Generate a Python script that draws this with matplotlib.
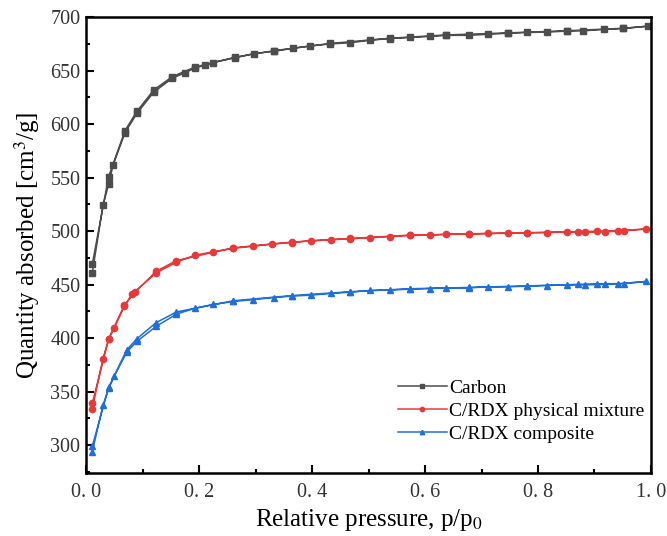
import numpy as np
import matplotlib
matplotlib.use("Agg")
import matplotlib.pyplot as plt
from matplotlib.ticker import MultipleLocator, FuncFormatter

plt.rcParams['font.family'] = ['Liberation Serif', 'DejaVu Serif']
plt.rcParams['mathtext.fontset'] = 'stix'

# Carbon (adsorption then desorption branch)
carbon_ads_x = [0.011, 0.030, 0.040, 0.048, 0.069, 0.090, 0.120, 0.153, 0.175, 0.193,
                0.211, 0.225, 0.264, 0.297, 0.332, 0.367, 0.396, 0.432, 0.467, 0.503,
                0.538, 0.573, 0.609, 0.638, 0.677, 0.712, 0.747, 0.781, 0.816, 0.851,
                0.880, 0.916, 0.951, 0.995]
carbon_ads_y = [461, 524, 544, 562, 592, 610, 630, 643, 648, 652.6,
                655, 657.6, 662, 666, 668, 671, 673, 675, 676, 678.5,
                680, 681, 682, 683, 683, 684, 685, 685.7, 686, 687,
                687.2, 688.5, 689.4, 691.6]
carbon_des_x = [0.951, 0.851, 0.747, 0.638, 0.538, 0.432, 0.332, 0.264, 0.193, 0.153,
                0.120, 0.090, 0.069, 0.040, 0.011]
carbon_des_y = [689.6, 687.3, 685.3, 683.4, 680.3, 675.4, 668.6, 662.6, 653.4, 644.5,
                632, 612, 594, 551, 469]

# C/RDX physical mixture
mix_ads_x = [0.011, 0.030, 0.040, 0.050, 0.068, 0.081, 0.124, 0.160, 0.193, 0.225,
             0.261, 0.296, 0.330, 0.364, 0.398, 0.433, 0.467, 0.503, 0.538, 0.573,
             0.609, 0.638, 0.677, 0.712, 0.747, 0.781, 0.816, 0.851, 0.883, 0.919,
             0.952, 0.991]
mix_ads_y = [334, 381, 398.8, 409.6, 430, 441, 461, 471, 477.6, 480.7,
             484, 486, 488, 489.4, 491, 492, 492.8, 494, 495, 496,
             496.3, 497, 497.2, 497.9, 498, 498.4, 498.7, 499, 498.8, 499.4,
             500.3, 502]
mix_des_x = [0.942, 0.904, 0.870, 0.781, 0.677, 0.573, 0.467, 0.364, 0.261, 0.160,
             0.124, 0.087, 0.068, 0.040, 0.011]
mix_des_y = [500.6, 500, 499.6, 498.6, 497.5, 496.3, 493.2, 489.8, 484.5, 472.5,
             462.5, 443, 431, 399.5, 339]

# C/RDX composite
comp_ads_x = [0.011, 0.030, 0.040, 0.050, 0.072, 0.090, 0.124, 0.160, 0.193, 0.225,
              0.261, 0.296, 0.332, 0.364, 0.398, 0.433, 0.467, 0.503, 0.538, 0.573,
              0.609, 0.638, 0.677, 0.712, 0.747, 0.781, 0.816, 0.851, 0.883, 0.919,
              0.952, 0.991]
comp_ads_y = [293.8, 337.4, 353, 364.5, 387, 397, 411, 422.5, 428, 431.5,
              434.3, 436, 438, 439.3, 440.2, 441.8, 443, 444.6, 445, 445.8,
              446.4, 447, 447, 448, 448, 448.6, 449.2, 449.8, 449.8, 450.3,
              450.9, 453]
comp_des_x = [0.942, 0.904, 0.870, 0.781, 0.677, 0.573, 0.467, 0.364, 0.261, 0.160,
              0.124, 0.090, 0.072, 0.040, 0.011]
comp_des_y = [451, 450.9, 450.3, 448.9, 447.4, 446.2, 443.4, 439.8, 435, 424.5,
              414.5, 399.5, 389, 354, 299]

labels = ["Carbon", "C/RDX physical mixture", "C/RDX composite"]

fig = plt.figure(figsize=(6.67, 5.36), dpi=100)
ax = fig.add_axes([0.129, 0.1175, 0.847, 0.8505])

series = [
    (carbon_ads_x + carbon_des_x, carbon_ads_y + carbon_des_y, '#4d4d4d', 's'),
    (mix_ads_x + mix_des_x, mix_ads_y + mix_des_y, '#e8393a', 'o'),
    (comp_ads_x + comp_des_x, comp_ads_y + comp_des_y, '#1e6fd9', '^'),
]
for (x, y, c, m), lab in zip(series, labels):
    ax.plot(x, y, color=c, marker=m, markersize=4.5, linewidth=1.1, label=lab)

ax.set_xlim(0, 1.0)
ax.set_ylim(274, 700)
ax.xaxis.set_major_locator(MultipleLocator(0.2))
ax.xaxis.set_minor_locator(MultipleLocator(0.1))
ax.yaxis.set_major_locator(MultipleLocator(50))
ax.yaxis.set_minor_locator(MultipleLocator(25))
ax.xaxis.set_major_formatter(FuncFormatter(lambda v, p: ("%.1f" % v).replace('.', '. ')))
ax.yaxis.set_major_formatter(FuncFormatter(lambda v, p: "%d" % v))
ax.tick_params(which='both', direction='in', width=1.5, labelsize=14.5,
               labelcolor='#333333', top=False, right=False)
ax.tick_params(which='major', length=6)
ax.tick_params(which='minor', length=3)
ax.tick_params(axis='y', which='major', pad=4)
ax.tick_params(axis='x', which='major', pad=7)
for s in ax.spines.values():
    s.set_linewidth(1.8)

ax.set_xlabel("Relative pressure, p/p$_0$", fontsize=18, labelpad=4)
ax.set_ylabel("Quantity absorbed [cm$^3$/g]", fontsize=18, labelpad=6)

ax.legend(loc='upper left', bbox_to_anchor=(0.552, 0.205), frameon=False,
          fontsize=14, handlelength=2.5, handletextpad=0.15, labelspacing=0.26,
          borderpad=0, borderaxespad=0, markerscale=0.7)

fig.savefig("out.png", dpi=100)
